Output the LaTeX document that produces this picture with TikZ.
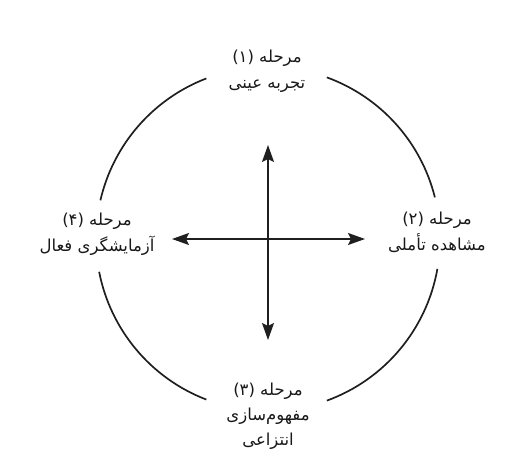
\documentclass[tikz,border=0pt]{standalone}
\usepackage{fontspec}
\newfontfamily\arabicfont[Script=Arabic]{DejaVu Sans}
\TeXXeTstate=1
\usetikzlibrary{arrows.meta}
\begin{document}
\begin{tikzpicture}[x=1pt,y=1pt,
  lab/.style={font=\arabicfont\fontsize{16.5}{26}\selectfont, align=center, text=black!90, inner sep=0pt},
  ring/.style={line width=1.7pt, draw=black!88},
  axis/.style={line width=1.7pt, draw=black!88,
    {Stealth[length=17pt,width=12pt,inset=3pt]}-{Stealth[length=17pt,width=12pt,inset=3pt]}}]
\useasboundingbox (0,0) rectangle (512,451);
\coordinate (C) at (268,212);
\coordinate (T) at (268,306);
\coordinate (B) at (268,111);
\coordinate (L) at (172,212);
\coordinate (R) at (365,212);
\draw[axis] (B) -- (T);
\draw[axis] (L) -- (R);
\draw[ring] (C) ++(14:172) arc[start angle=14, end angle=70, radius=172];
\draw[ring] (C) ++(111:172) arc[start angle=111, end angle=167, radius=172];
\draw[ring] (C) ++(191:172) arc[start angle=191, end angle=249, radius=172];
\draw[ring] (C) ++(290:172) arc[start angle=290, end angle=350, radius=172];
\node[lab] (s1) at (267,380) {\beginR مرحله (۱)\endR\\\beginR تجربه عینی\endR};
\node[lab] (s2) at (437,219) {\beginR مرحله (۲)\endR\\\beginR مشاهده تأملی\endR};
\node[lab, font=\arabicfont\fontsize{16.5}{25}\selectfont] (s3) at (268,35) {\beginR مرحله (۳)\endR\\\beginR مفهوم‌سازی\endR\\\beginR انتزاعی\endR};
\node[lab] (s4) at (97,217) {\beginR مرحله (۴)\endR\\\beginR آزمایشگری فعال\endR};
\end{tikzpicture}
\end{document}
